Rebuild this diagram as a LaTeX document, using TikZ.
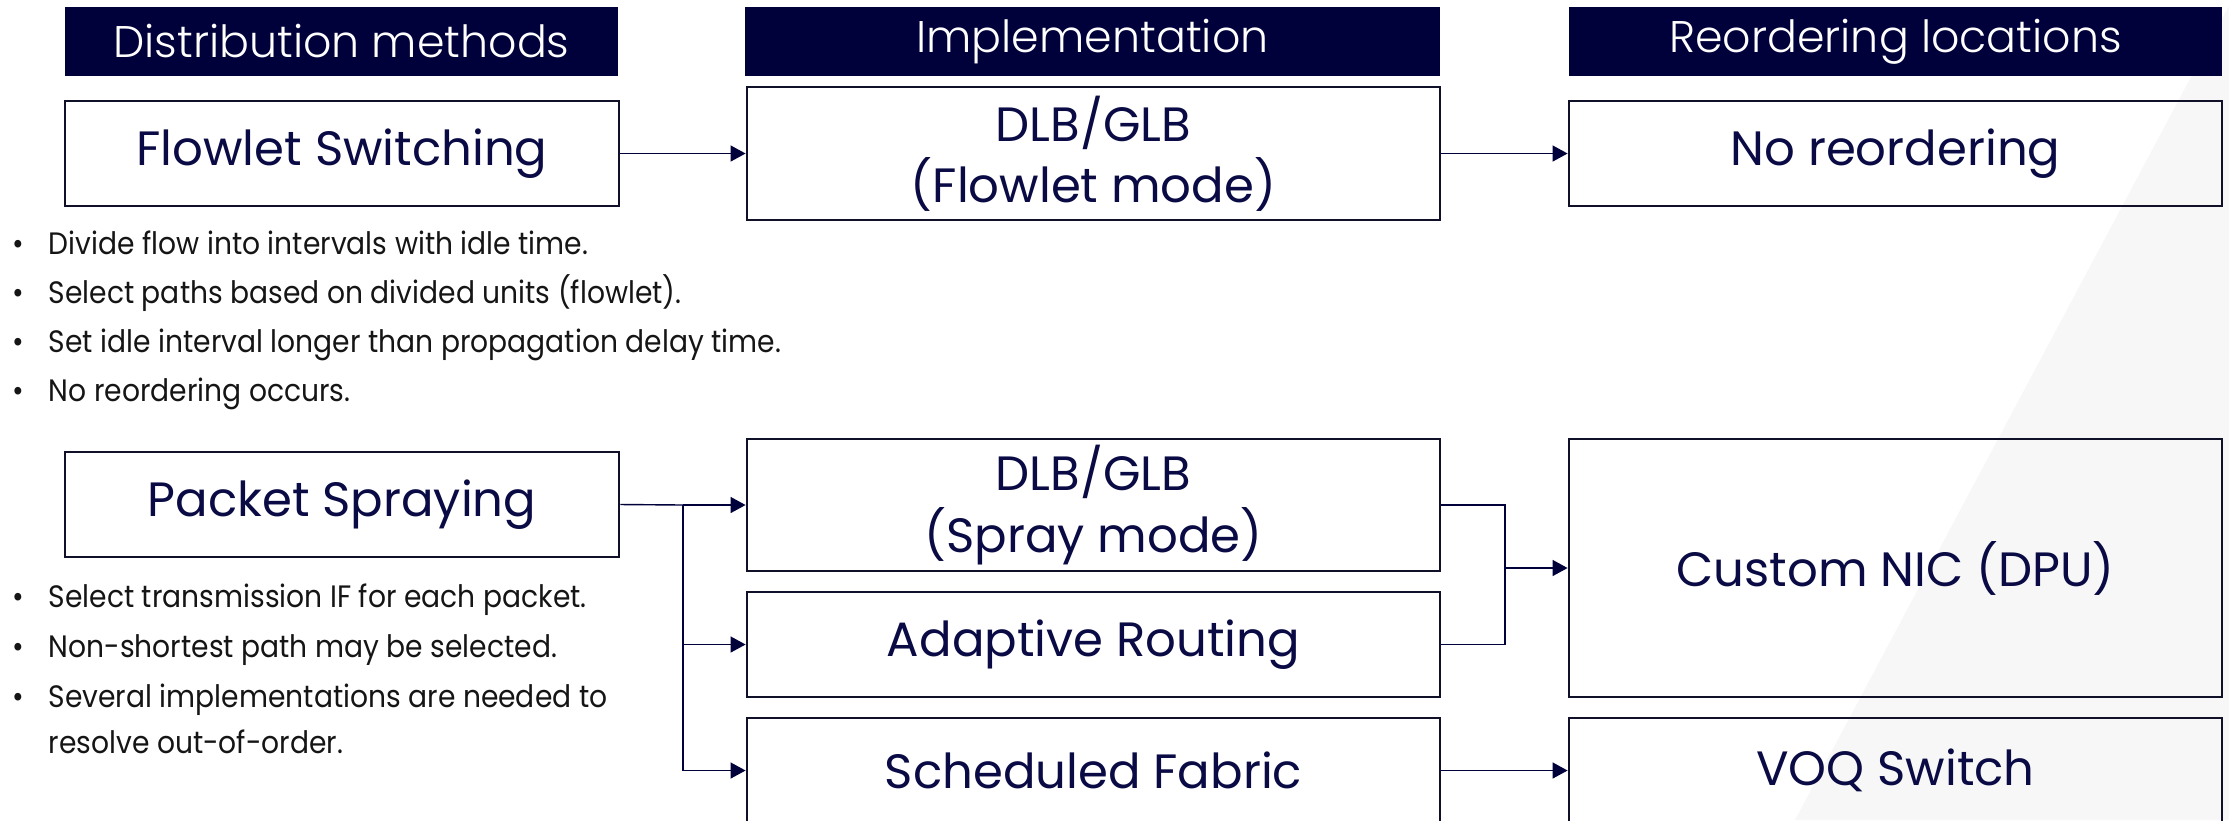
\documentclass[tikz,border=0pt]{standalone}
\usepackage{fontspec}
\setmainfont{Poppins}
\newfontfamily\notefont[FakeStretch=0.91]{Poppins}
\IfFontExistsTF{Poppins Light}{\newfontfamily\hdrfont{Poppins Light}}{\newfontfamily\hdrfont{Poppins}}
\usetikzlibrary{arrows.meta}
\definecolor{navy}{HTML}{00003A}
\definecolor{ink}{HTML}{0A0A45}
\definecolor{edge}{HTML}{101028}
\definecolor{band}{HTML}{F7F7F7}
\definecolor{bodytext}{HTML}{151515}
\begin{document}
\begin{tikzpicture}[x=0.01cm, y=-0.01cm,
  header/.style={fill=navy, draw=none, text=white, inner sep=0pt,
    font=\hdrfont\fontsize{12.6}{15}\selectfont},
  box/.style={draw=edge, line width=0.7pt, text=ink, align=center, inner sep=0pt,
    font=\fontsize{13.7}{17.4}\selectfont},
  link/.style={draw=navy, line width=0.4pt},
  arr/.style={link, -{Triangle[length=0.15cm,width=0.16cm]}},
  bullet/.style={anchor=base west, inner sep=0pt, text=bodytext,
    font=\notefont\fontsize{8.8}{10}\selectfont},
]
\useasboundingbox (0,0) rectangle (2229,820);
% light diagonal band on the right
\fill[band] (2232,0) -- (1795,820) -- (2229,820) -- (2229,0) -- cycle;

% column headers
\node[header, minimum width=5.53cm, minimum height=0.69cm] (h1) at (341.5,41.5) {Distribution methods};
\node[header, minimum width=6.95cm, minimum height=0.69cm] (h2) at (1092.5,41.5) {Implementation};
\node[header, minimum width=6.53cm, minimum height=0.69cm] (h3) at (1895.5,41.5) {Reordering locations};

% flowlet row
\node[box, minimum width=5.54cm, minimum height=1.05cm] (flowlet) at (342,153.5) {Flowlet Switching};
\node[box, minimum width=6.93cm, minimum height=1.33cm] (dlbf) at (1093.5,153.5) {DLB/GLB\\(Flowlet mode)};
\node[box, minimum width=6.53cm, minimum height=1.05cm] (noreo) at (1895.5,153.5) {No reordering};

% packet spraying rows
\node[box, minimum width=5.54cm, minimum height=1.05cm] (packet) at (342,504.5) {Packet Spraying};
\node[box, minimum width=6.93cm, minimum height=1.32cm] (dlbs) at (1093.5,505) {DLB/GLB\\(Spray mode)};
\node[box, minimum width=6.93cm, minimum height=1.05cm] (adapt) at (1093.5,644.5) {Adaptive Routing};
\node[box, minimum width=6.93cm, minimum height=1.05cm] (sched) at (1093.5,770.5) {Scheduled Fabric};
\node[box, minimum width=6.53cm, minimum height=2.58cm] (nic) at (1895.5,568) {Custom NIC (DPU)};
\node[box, minimum width=6.53cm, minimum height=1.05cm] (voq) at (1895.5,770.5) {VOQ Switch};

% bullet notes
\node[bullet] (f1) at (12,254) {\makebox[0.36cm][l]{•}Divide flow into intervals with idle time.};
\node[bullet] (f2) at (12,303) {\makebox[0.36cm][l]{•}Select paths based on divided units (flowlet).};
\node[bullet] (f3) at (12,352) {\makebox[0.36cm][l]{•}Set idle interval longer than propagation delay time.};
\node[bullet] (f4) at (12,401) {\makebox[0.36cm][l]{•}No reordering occurs.};
\node[bullet] (p1) at (12,607) {\makebox[0.36cm][l]{•}Select transmission IF for each packet.};
\node[bullet] (p2) at (12,657) {\makebox[0.36cm][l]{•}Non-shortest path may be selected.};
\node[bullet] (p3) at (12,707) {\makebox[0.36cm][l]{•}Several implementations are needed to};
\node[bullet] (p4) at (48,753) {resolve out-of-order.};

% connectors
\draw[arr] (flowlet.east) -- (dlbf.west);
\draw[arr] (dlbf.east) -- (noreo.west);

\coordinate (split) at (683,505);
\draw[link] (packet.east) -- (split);
\draw[arr] (split) -- (dlbs.west);
\draw[link] (split) -- (split |- sched.west);
\draw[arr] (split |- adapt.west) -- (adapt.west);
\draw[arr] (split |- sched.west) -- (sched.west);

\coordinate (merge) at (1505,568);
\draw[link] (dlbs.east) -| (merge);
\draw[link] (adapt.east) -| (merge);
\draw[arr] (merge) -- (nic.west);
\draw[arr] (sched.east) -- (voq.west);
\end{tikzpicture}
\end{document}
